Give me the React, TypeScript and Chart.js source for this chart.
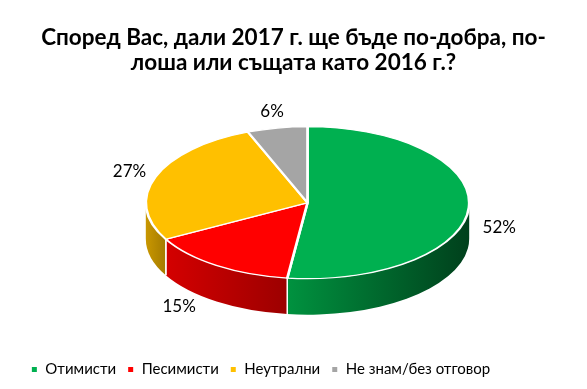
import React, { useEffect, useRef } from 'react';
import { Chart, registerables } from 'chart.js';

Chart.register(...registerables);

const titleLines = ['Според Вас, дали 2017 г. ще бъде по-добра, по-', 'лоша или същата като 2016 г.?'];
const categories = ['Отимисти', 'Песимисти', 'Неутрални', 'Не знам/без отговор'];
const values = [52, 15, 27, 6];
const valueLabels = ['52%', '15%', '27%', '6%'];
const topColors = ['#00B050', '#FF0000', '#FFC000', '#A5A5A5'];
const sideLight = ['#00923F', '#D40000', '#C99700', '#8A8A8A'];
const sideDark = ['#00401C', '#9C0000', '#A47B00', '#666666'];

const FONT = 'Lato, "Open Sans", sans-serif';

function geometry(chart: any, opts: any) {
  const meta = chart.getDatasetMeta(0);
  const arcs = meta.data;
  if (!arcs.length) return null;
  const first = arcs[0];
  const R = first.outerRadius;
  const rx = R * opts.scaleX;
  return {
    arcs,
    cx0: first.x,
    cy0: first.y,
    R,
    cx: first.x + opts.shiftX,
    ecy: first.y + opts.shiftY,
    rx,
    ry: rx * opts.tilt,
    depth: opts.depth,
  };
}

const pie3d = {
  id: 'pie3d',
  afterLayout(chart: any, _args: any, opts: any) {
    if (chart.legend) {
      chart.legend.left += opts.legendShiftX;
      chart.legend.right += opts.legendShiftX;
    }
  },
  beforeDatasetsDraw(chart: any, _args: any, opts: any) {
    const g0 = geometry(chart, opts);
    if (!g0) return;
    const { arcs, cx, ecy, rx, ry, depth, R, cx0, cy0 } = g0;
    const ctx = chart.ctx;
    ctx.save();
    arcs.forEach((arc: any, i: number) => {
      const lo = Math.max(arc.startAngle, 0);
      const hi = Math.min(arc.endAngle, Math.PI);
      if (lo >= hi) return;
      const xl = cx + rx * Math.cos(hi);
      const xr = cx + rx * Math.cos(lo);
      const g = ctx.createLinearGradient(xl, 0, xr, 0);
      g.addColorStop(0, sideLight[i]);
      g.addColorStop(1, sideDark[i]);
      ctx.beginPath();
      ctx.ellipse(cx, ecy, rx, ry, 0, lo, hi, false);
      ctx.ellipse(cx, ecy + depth, rx, ry, 0, hi, lo, true);
      ctx.closePath();
      ctx.fillStyle = g;
      ctx.fill();
      ctx.strokeStyle = '#FFFFFF';
      ctx.lineWidth = 1.5;
      [lo, hi].forEach((a) => {
        if (a > 0.001 && a < Math.PI - 0.001) {
          const x = cx + rx * Math.cos(a);
          const y = ecy + ry * Math.sin(a);
          ctx.beginPath();
          ctx.moveTo(x, y);
          ctx.lineTo(x, y + depth);
          ctx.stroke();
        }
      });
    });
    ctx.restore();
    ctx.save();
    ctx.translate(cx, ecy);
    ctx.scale(rx / R, ry / R);
    ctx.translate(-cx0, -cy0);
  },
  afterDatasetsDraw(chart: any, _args: any, opts: any) {
    const ctx = chart.ctx;
    ctx.restore();
    const g0 = geometry(chart, opts);
    if (!g0) return;
    const { arcs, cx, ecy, rx, ry, depth } = g0;
    ctx.save();
    ctx.font = `17px ${FONT}`;
    ctx.fillStyle = '#000000';
    ctx.textAlign = 'center';
    ctx.textBaseline = 'middle';
    arcs.forEach((arc: any, i: number) => {
      const mid = (arc.startAngle + arc.endAngle) / 2;
      const c = Math.cos(mid);
      const s = Math.sin(mid);
      const x = cx + rx * opts.labelFx * c * (s > 0 ? 1 + 0.25 * s : 1);
      let y = ecy + ry * opts.labelFy * s;
      if (s > 0) y += depth * (0.5 + 0.3 * s);
      ctx.fillText(valueLabels[i], x, y);
    });
    ctx.restore();
  },
};

export default function App() {
  const ref = useRef<HTMLCanvasElement | null>(null);
  useEffect(() => {
    if (!ref.current) return;
    const chart = new Chart(ref.current, {
      type: 'pie',
      data: {
        labels: categories,
        datasets: [
          {
            data: values,
            backgroundColor: topColors,
            borderColor: '#FFFFFF',
            borderWidth: 2,
          },
        ],
      },
      options: {
        animation: false,
        responsive: true,
        maintainAspectRatio: false,
        events: [],
        layout: { padding: { top: 0, bottom: 2, left: 0, right: 0 } },
        plugins: {
          title: {
            display: true,
            text: titleLines,
            color: '#000000',
            font: { family: FONT, size: 22.5, weight: 'bold', lineHeight: 1.12 },
            padding: { top: 25, bottom: 31 },
          },
          legend: {
            position: 'bottom',
            labels: {
              usePointStyle: true,
              pointStyle: 'rect',
              boxWidth: 7,
              boxHeight: 7,
              padding: 11,
              color: '#000000',
              font: { family: FONT, size: 15 },
            },
          },
          tooltip: { enabled: false },
          pie3d: {
            scaleX: 1.333,
            tilt: 0.47,
            shiftX: 14,
            shiftY: -26,
            depth: 36,
            labelFx: 1.17,
            labelFy: 1.22,
            legendShiftX: -33,
          },
        } as any,
      },
      plugins: [pie3d],
    });
    return () => chart.destroy();
  }, []);
  return (
    <div style={{ position: 'fixed', left: 0, top: 0, width: 587, height: 389, background: '#FFFFFF' }}>
      <canvas ref={ref} />
    </div>
  );
}
